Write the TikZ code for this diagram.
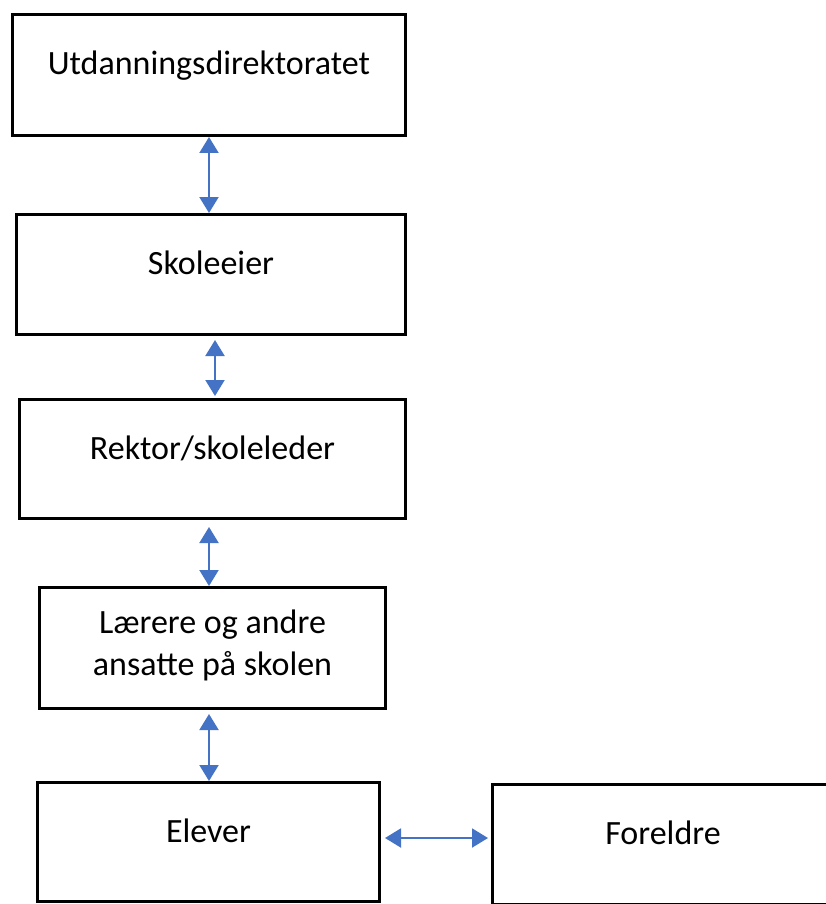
\documentclass[tikz,border=0pt]{standalone}
\usepackage{fontspec}
\setmainfont{Carlito}
\usetikzlibrary{arrows.meta}
\definecolor{pilblaa}{HTML}{4472C4}

\begin{document}
\begin{tikzpicture}[x=1pt, y=-1pt,
    boks/.style={draw=black, line width=3pt, fill=white, inner sep=0pt},
    tekst/.style={anchor=base, font=\fontsize{34}{42}\selectfont, inner sep=0pt},
    pil/.style={draw=pilblaa, line width=2pt,
        {Triangle[width=19pt,length=16pt]}-{Triangle[width=19pt,length=16pt]}}]
    \useasboundingbox (0,0) rectangle (825,904);

    % boksene
    \node[boks, minimum width=393pt, minimum height=121pt] (dir) at (209,75) {};
    \node[boks, minimum width=389pt, minimum height=120pt] (eier) at (211,274.5) {};
    \node[boks, minimum width=386pt, minimum height=119pt] (rektor) at (212.5,459) {};
    \node[boks, minimum width=346pt, minimum height=121pt] (laerer) at (212.5,648) {};
    \node[boks, minimum width=342pt, minimum height=119pt] (elever) at (208.5,842) {};
    \node[boks, minimum width=341pt, minimum height=120pt] (foreldre) at (663,844.5) {};

    % tekstene
    \node[tekst] (tdir) at (dir.center) {Utdanningsdirektoratet};
    \node[tekst] (teier) at (eier.center) {Skoleeier};
    \node[tekst] (trektor) at (rektor.center) {Rektor/skoleleder};
    \node[tekst, anchor=center, align=center] (tlaerer) at ([yshift=3pt]laerer.center)
        {Lærere og andre\\ansatte på skolen};
    \node[tekst] (telever) at (elever.center) {Elever};
    \node[tekst] (tforeldre) at (foreldre.center) {Foreldre};

    % pilene
    \draw[pil] (dir.south) -- (dir.south |- eier.north);
    \draw[pil, shorten <=4pt, shorten >=2pt] ([xshift=4pt]eier.south) -- ([xshift=4pt]eier.south |- rektor.north);
    \draw[pil, shorten <=7pt] ([xshift=-3.5pt]rektor.south) -- ([xshift=-3.5pt]rektor.south |- laerer.north);
    \draw[pil, shorten <=4pt] ([xshift=-3.5pt]laerer.south) -- ([xshift=-3.5pt]laerer.south |- elever.north);
    \draw[pil, shorten <=4pt, shorten >=3pt] (elever.east |- 0,838) -- (foreldre.west |- 0,838);
\end{tikzpicture}
\end{document}
